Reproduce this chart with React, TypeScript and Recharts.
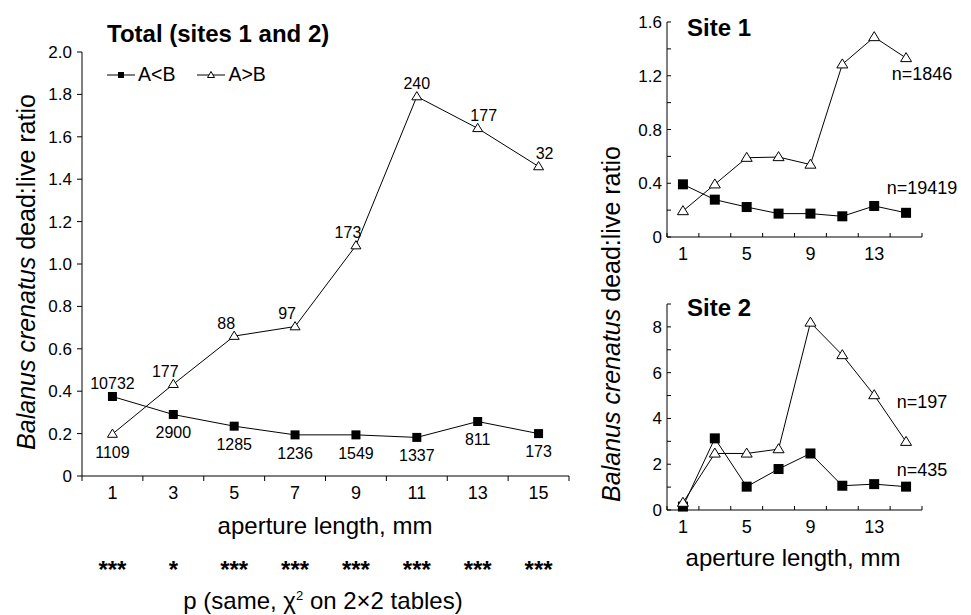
import React from 'react';
import { LineChart, Line, XAxis, YAxis, Legend, LabelList } from 'recharts';

const FONT = '"Liberation Sans", Arial, Helvetica, sans-serif';

// aperture length classes, mm
const sizes = [1, 3, 5, 7, 9, 11, 13, 15];
const seriesNames = ['A<B', 'A>B'];

// Total (sites 1 and 2): dead:live ratio and sample sizes
const totalLt = [0.375, 0.29, 0.235, 0.194, 0.194, 0.182, 0.257, 0.2];
const totalGt = [0.198, 0.433, 0.66, 0.705, 1.087, 1.79, 1.64, 1.46];
const totalLtN = [10732, 2900, 1285, 1236, 1549, 1337, 811, 173];
const totalGtN = [1109, 177, 88, 97, 173, 240, 177, 32];
const pStars = ['***', '*', '***', '***', '***', '***', '***', '***'];

// Site 1
const site1Lt = [0.392, 0.278, 0.223, 0.174, 0.174, 0.154, 0.231, 0.18];
const site1Gt = [0.193, 0.392, 0.59, 0.595, 0.539, 1.285, 1.488, 1.332];
const site1N = [19419, 1846];

// Site 2
const site2Lt = [0.15, 3.13, 1.02, 1.79, 2.47, 1.06, 1.13, 1.02];
const site2Gt = [0.32, 2.47, 2.47, 2.66, 8.19, 6.77, 5.02, 2.98];
const site2N = [435, 197];

// axis ticks
const totalYTicks = [0, 0.2, 0.4, 0.6, 0.8, 1.0, 1.2, 1.4, 1.6, 1.8, 2.0];
const site1YTicks = [0, 0.2, 0.4, 0.6, 0.8, 1.0, 1.2, 1.4, 1.6];
const site2YTicks = [0, 1, 2, 3, 4, 5, 6, 7, 8, 9];
const xMarks = [0, 2, 4, 6, 8, 10, 12, 14, 16];
const siteXLabels = [1, 5, 9, 13];

const rows = (lt: number[], gt: number[], ltN?: number[], gtN?: number[]) =>
  sizes.map((s, i) => ({ size: s, lt: lt[i], gt: gt[i], ltN: ltN?.[i], gtN: gtN?.[i] }));

const totalRows = rows(totalLt, totalGt, totalLtN, totalGtN);
const site1Rows = rows(site1Lt, site1Gt);
const site2Rows = rows(site2Lt, site2Gt);

const union = (a: number[], b: number[]) => Array.from(new Set([...a, ...b])).sort((x, y) => x - y);

const squareDot = (size: number) => (p: any) => (
  <rect key={`sq-${p.index}`} x={p.cx - size / 2} y={p.cy - size / 2} width={size} height={size} fill="#000" />
);

const triDot = (w: number) => (p: any) => {
  const h = w * 0.82;
  return (
    <path
      key={`tr-${p.index}`}
      d={`M${p.cx},${p.cy - h * 0.6}L${p.cx + w / 2},${p.cy + h * 0.4}L${p.cx - w / 2},${p.cy + h * 0.4}Z`}
      fill="#fff"
      stroke="#000"
      strokeWidth={1}
    />
  );
};

// x ticks: marks on even sizes, numbers on the labelled ones
const xTick = (labels: number[], inside: boolean, stars?: string[]) => (p: any) => {
  const v = p.payload.value;
  const li = labels.indexOf(v);
  return (
    <g key={`xt-${v}`}>
      {xMarks.includes(v) && (
        <line x1={p.x} x2={p.x} y1={p.y} y2={inside ? p.y - 4 : p.y + 5} stroke="#000" />
      )}
      {li >= 0 && (
        <text x={p.x} y={p.y + 17} dy="0.355em" textAnchor="middle" fontSize={18} fill="#000" fontFamily={FONT}>
          {v}
        </text>
      )}
      {stars && li >= 0 && (
        <text x={p.x} y={p.y + 102} textAnchor="middle" fontSize={24} fontWeight="bold" fill="#000" fontFamily={FONT}>
          {stars[li]}
        </text>
      )}
    </g>
  );
};

// site y ticks: marks inside the plot, numbers on every other tick
const siteYTick = (ticks: number[], fmt: (v: number) => string) => (p: any) => {
  const v = p.payload.value;
  return (
    <g key={`yt-${v}`}>
      <line x1={p.x} x2={p.x + 4} y1={p.y} y2={p.y} stroke="#000" />
      {ticks.indexOf(v) % 2 === 0 && (
        <text x={p.x - 5} y={p.y} dy="0.355em" textAnchor="end" fontSize={17} fill="#000" fontFamily={FONT}>
          {fmt(v)}
        </text>
      )}
    </g>
  );
};

const fmt1 = (v: number) => (v === 0 ? '0' : v.toFixed(1));

// count labels sit off the line: rising -> left, falling -> right
const slopeShift = (vals: number[], i: number) => {
  if (i < vals.length - 1 && vals[i + 1] > vals[i]) return -8;
  if (i > 0 && vals[i - 1] > vals[i]) return 6;
  return 0;
};

const countLabel = (vals: number[], aboveFirst: boolean) => (p: any) => {
  const i = p.index;
  const above = i === 0 ? aboveFirst : !aboveFirst;
  const dx = above && !aboveFirst ? slopeShift(vals, i) : 0;
  return (
    <text
      key={`cl-${i}`}
      x={p.x + dx}
      y={above ? p.y - 13 : p.y + 18}
      dy="0.355em"
      textAnchor="middle"
      fontSize={16}
      fill="#000"
      fontFamily={FONT}
    >
      {p.value}
    </text>
  );
};

const nLabel = (n: number, dx: number, dy: number) => (p: any) =>
  p.index === sizes.length - 1 ? (
    <text key="n" x={p.x + dx} y={p.y + dy} dy="0.355em" textAnchor="middle" fontSize={18} fill="#000" fontFamily={FONT}>
      {`n=${n}`}
    </text>
  ) : null;

function LegendBox() {
  const item = (name: string, marker: React.ReactNode) => (
    <span style={{ display: 'inline-flex', alignItems: 'center', marginRight: 22 }}>
      <svg width={28} height={12}>
        <line x1={0} x2={28} y1={6} y2={6} stroke="#000" />
        {marker}
      </svg>
      <span style={{ marginLeft: 3 }}>{name}</span>
    </span>
  );
  return (
    <div style={{ fontFamily: FONT, fontSize: 19.5, color: '#000', lineHeight: 1, display: 'flex' }}>
      {item(seriesNames[0], <rect x={11} y={3} width={6} height={6} fill="#000" />)}
      {item(seriesNames[1], <path d="M14,2.5L17.5,8.5L10.5,8.5Z" fill="#fff" stroke="#000" />)}
    </div>
  );
}

function Txt({ x, y, size, bold, anchor = 'left', children }: any) {
  return (
    <div
      style={{
        position: 'absolute',
        left: x,
        top: y - size / 2,
        transform: anchor === 'center' ? 'translateX(-50%)' : undefined,
        fontFamily: FONT,
        fontSize: size,
        fontWeight: bold ? 'bold' : 'normal',
        lineHeight: 1,
        whiteSpace: 'nowrap',
        color: '#000',
      }}
    >
      {children}
    </div>
  );
}

function YTitle({ x, y }: { x: number; y: number }) {
  return (
    <div
      style={{
        position: 'absolute',
        left: x,
        top: y,
        transform: 'translate(-50%, -50%) rotate(-90deg)',
        fontFamily: FONT,
        fontSize: 25,
        lineHeight: 1,
        whiteSpace: 'nowrap',
        color: '#000',
      }}
    >
      <i>Balanus crenatus</i> dead:live ratio
    </div>
  );
}

function SiteChart({ data, yTicks, yFmt, n, nLt, nGt, height, top, bottom }: any) {
  return (
    <LineChart width={351} height={height} data={data} margin={{ top, right: 49, bottom, left: 7 }}>
      <XAxis
        type="number"
        dataKey="size"
        domain={[0, 16]}
        ticks={union(siteXLabels, xMarks)}
        interval={0}
        tickLine={false}
        tickSize={0}
        tickMargin={0}
        axisLine={{ stroke: '#000' }}
        tick={xTick(siteXLabels, true)}
        height={30}
      />
      <YAxis
        type="number"
        domain={[yTicks[0], yTicks[yTicks.length - 1]]}
        ticks={yTicks}
        interval={0}
        width={40}
        tickLine={false}
        tickSize={0}
        tickMargin={0}
        axisLine={{ stroke: '#000' }}
        tick={siteYTick(yTicks, yFmt)}
      />
      <Line type="linear" dataKey="lt" name={seriesNames[0]} stroke="#000" strokeWidth={1} dot={squareDot(10)} activeDot={false} isAnimationActive={false}>
        <LabelList dataKey="lt" content={nLabel(n[0], nLt[0], nLt[1])} />
      </Line>
      <Line type="linear" dataKey="gt" name={seriesNames[1]} stroke="#000" strokeWidth={1} dot={triDot(11)} activeDot={false} isAnimationActive={false}>
        <LabelList dataKey="gt" content={nLabel(n[1], nGt[0], nGt[1])} />
      </Line>
    </LineChart>
  );
}

export default function App() {
  return (
    <div style={{ position: 'absolute', left: 0, top: 0, width: 971, height: 615, background: '#fff', overflow: 'hidden' }}>
      <div style={{ position: 'absolute', left: 0, top: 0 }}>
        <LineChart width={600} height={615} data={totalRows} margin={{ top: 52, right: 31, bottom: 109, left: 42 }}>
          <XAxis
            type="number"
            dataKey="size"
            domain={[0, 16]}
            ticks={union(sizes, xMarks)}
            interval={0}
            tickLine={false}
            tickSize={0}
            tickMargin={0}
            axisLine={{ stroke: '#000' }}
            tick={xTick(sizes, false, pStars)}
            height={30}
          />
          <YAxis
            type="number"
            domain={[0, 2]}
            ticks={totalYTicks}
            interval={0}
            width={40}
            tickSize={5}
            tickMargin={5}
            tickLine={{ stroke: '#000' }}
            axisLine={{ stroke: '#000' }}
            tick={{ fontSize: 17, fill: '#000', fontFamily: FONT }}
            tickFormatter={fmt1}
          />
          <Legend
            layout="horizontal"
            verticalAlign="middle"
            align="center"
            content={() => <LegendBox />}
            wrapperStyle={{ top: 65, left: 107, width: 'auto' }}
          />
          <Line type="linear" dataKey="lt" name={seriesNames[0]} stroke="#000" strokeWidth={1} dot={squareDot(9)} activeDot={false} isAnimationActive={false}>
            <LabelList dataKey="ltN" content={countLabel(totalLt, true)} />
          </Line>
          <Line type="linear" dataKey="gt" name={seriesNames[1]} stroke="#000" strokeWidth={1} dot={triDot(10)} activeDot={false} isAnimationActive={false}>
            <LabelList dataKey="gtN" content={countLabel(totalGt, false)} />
          </Line>
        </LineChart>
      </div>

      <div style={{ position: 'absolute', left: 620, top: 0 }}>
        <SiteChart data={site1Rows} yTicks={site1YTicks} yFmt={fmt1} n={site1N} nLt={[16, -25]} nGt={[16, 16]} height={270} top={22} bottom={3} />
      </div>
      <div style={{ position: 'absolute', left: 620, top: 280 }}>
        <SiteChart data={site2Rows} yTicks={site2YTicks} yFmt={(v: number) => String(v)} n={site2N} nLt={[16, -17]} nGt={[16, -40]} height={310} top={24} bottom={50} />
      </div>

      <Txt x={107} y={34} size={24} bold>Total (sites 1 and 2)</Txt>
      <Txt x={687} y={28} size={24} bold>Site 1</Txt>
      <Txt x={687} y={308} size={24} bold>Site 2</Txt>

      <Txt x={325} y={526} size={24} anchor="center">aperture length, mm</Txt>
      <Txt x={323} y={601} size={24} anchor="center">
        p (same, χ<sup style={{ fontSize: 13, verticalAlign: 'top', lineHeight: 1 }}>2</sup> on 2×2 tables)
      </Txt>
      <Txt x={793} y={558} size={24} anchor="center">aperture length, mm</Txt>

      <YTitle x={26} y={272} />
      <YTitle x={611} y={324} />
    </div>
  );
}
